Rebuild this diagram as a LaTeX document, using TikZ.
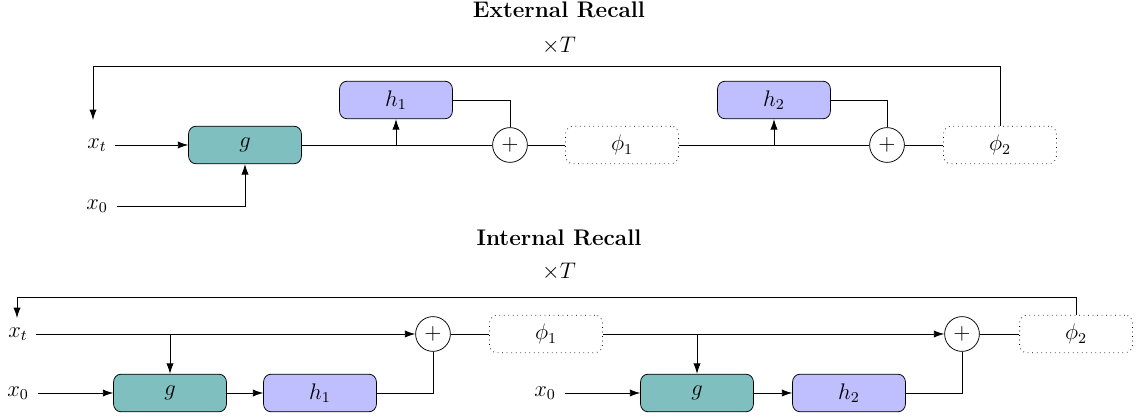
\documentclass[tikz,border=0pt]{standalone}
\usetikzlibrary{arrows.meta}
\begin{document}
\begin{tikzpicture}[x=0.532pt,y=-0.532pt,
  every node/.style={font=\large},
  blk/.style={draw, rounded corners=4pt, minimum width=60pt, minimum height=20pt, inner sep=0pt},
  gblk/.style={blk, fill=teal!50},
  hblk/.style={blk, fill=blue!25},
  phiblk/.style={blk, dotted},
  sumnode/.style={draw, circle, minimum size=18.5pt, inner sep=0pt},
  lbl/.style={inner sep=4.5pt},
  arr/.style={-{Latex[length=5.5pt,width=3.8pt]}}]
\useasboundingbox (0,0) rectangle (1139,419);

% ---------------- External Recall ----------------
\node (t1) at (559,10) {\textbf{External Recall}};
\node (T1) at (559,46) {$\times T$};
\node[lbl] (xt1) at (97,145) {$x_t$};
\node[lbl] (x01) at (97,206) {$x_0$};
\node[gblk] (g1) at (245,145) {$g$};
\node[hblk] (h1) at (396,100) {$h_1$};
\node[sumnode] (s1) at (510,145) {$+$};
\node[phiblk] (p1) at (622,145) {$\phi_1$};
\node[hblk] (h2) at (774,100) {$h_2$};
\node[sumnode] (s2) at (887,145) {$+$};
\node[phiblk] (p2) at (1000,145) {$\phi_2$};
\coordinate (fbtop1) at (93,66);
\coordinate (fbend1) at (93,120);

\draw[arr] (xt1.east |- g1.west) -- (g1.west);
\draw[arr] (x01.east) -| (g1.south);
\draw (g1.east) -- (s1.west);
\draw[arr] (g1.east) -| (h1.south);
\draw (h1.east) -| (s1.north);
\draw (s1.east) -- (p1.west);
\draw (p1.east) -- (s2.west);
\draw[arr] (p1.east) -| (h2.south);
\draw (h2.east) -| (s2.north);
\draw (s2.east) -- (p2.west);
\draw[arr] (p2.north) |- (fbtop1) -- (fbend1);

% ---------------- Internal Recall ----------------
\node (t2) at (559,238) {\textbf{Internal Recall}};
\node (T2) at (559,272) {$\times T$};
\node[lbl] (xt2) at (18,334) {$x_t$};
\node[lbl] (x02) at (18,393) {$x_0$};
\node[gblk] (g2) at (170,393) {$g$};
\node[hblk] (h3) at (320,393) {$h_1$};
\node[sumnode] (s3) at (433,334) {$+$};
\node[phiblk] (p3) at (546,334) {$\phi_1$};
\node[lbl] (x03) at (545,393) {$x_0$};
\node[gblk] (g3) at (697,393) {$g$};
\node[hblk] (h4) at (849,393) {$h_2$};
\node[sumnode] (s4) at (962,334) {$+$};
\node[phiblk] (p4) at (1076,334) {$\phi_2$};
\coordinate (fbtop2) at (17,297);
\coordinate (fbend2) at (17,318);

\draw[arr] (xt2.east |- s3.west) -- (s3.west);
\draw[arr] (g2.north |- s3.west) -- (g2.north);
\draw[arr] (x02.east |- g2.west) -- (g2.west);
\draw[arr] (g2.east) -- (h3.west);
\draw (h3.east) -| (s3.south);
\draw (s3.east) -- (p3.west);
\draw[arr] (p3.east) -- (s4.west);
\draw[arr] (g3.north |- p3.east) -- (g3.north);
\draw[arr] (x03.east |- g3.west) -- (g3.west);
\draw[arr] (g3.east) -- (h4.west);
\draw (h4.east) -| (s4.south);
\draw (s4.east) -- (p4.west);
\draw[arr] (p4.north) |- (fbtop2) -- (fbend2);
\end{tikzpicture}
\end{document}
